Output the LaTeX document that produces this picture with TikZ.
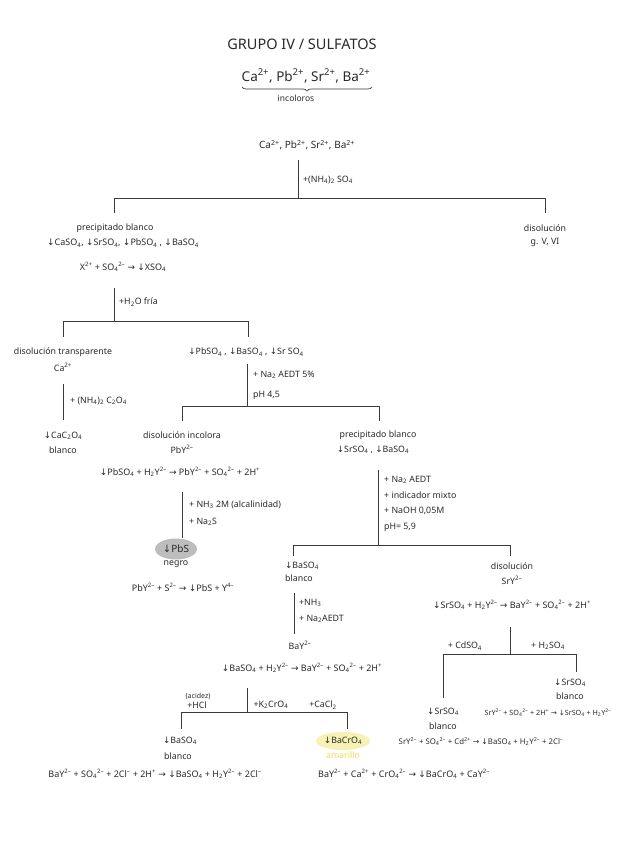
\documentclass[tikz,border=0pt]{standalone}
\usepackage{fontspec}
\setmainfont{Noto Sans}
\newfontfamily\symfont{DejaVu Sans}
\usetikzlibrary{decorations.pathreplacing,shapes.geometric}
\newcommand{\cb}[1]{\textsubscript{#1}}
\newcommand{\cp}[1]{\textsuperscript{#1}}
\newcommand{\pdn}{{\symfont ↓}}
\newcommand{\pto}{{\symfont →}}
\definecolor{inkc}{HTML}{2A2A2A}
\definecolor{linec}{HTML}{3A3A3A}
\definecolor{grayfill}{HTML}{BDBDBD}
\definecolor{yelfill}{HTML}{F6F1B4}
\definecolor{yeltext}{HTML}{EEDC5A}
\begin{document}
\begin{tikzpicture}[x=1pt,y=-1pt,
  txt/.style={font=\fontsize{8.8}{10}\selectfont, text=inkc, inner sep=1pt},
  small/.style={font=\fontsize{7}{8}\selectfont, text=inkc, inner sep=1pt},
  lbl/.style={txt, anchor=west},
  eqn/.style={font=\fontsize{9}{10}\selectfont, text=inkc, inner sep=1pt},
  ln/.style={line width=0.9pt, draw=linec},
  titlestyle/.style={font=\fontsize{14.5}{16}\selectfont, text=inkc},
  ionsstyle/.style={font=\fontsize{13.5}{15}\selectfont, text=inkc}]
\useasboundingbox[fill=white] (0,0) rectangle (636,848);

% title
\node[titlestyle] (title) at (302,44) {GRUPO IV / SULFATOS};
\node[ionsstyle] (ions) at (306,76) {Ca\cp{2+}, Pb\cp{2+}, Sr\cp{2+}, Ba\cp{2+}};
\coordinate (brl) at (242,87);
\coordinate (brr) at (372,87);
\draw[line width=0.7pt, draw=linec, decorate, decoration={brace, mirror, amplitude=4pt}] (brl) -- (brr);
\node[font=\fontsize{8.5}{9}\selectfont, text=inkc, inner sep=1pt] (incol) at (296,98) {incoloros};

% level 0
\node[font=\fontsize{10}{11}\selectfont, text=inkc, inner sep=1pt] (start) at (307,145) {Ca\cp{2+}, Pb\cp{2+}, Sr\cp{2+}, Ba\cp{2+}};
\coordinate (s1) at (298,160);
\coordinate (s2) at (298,198);
\coordinate (L1) at (114,198);
\coordinate (R1) at (545,198);
\coordinate (L1b) at (114,213);
\coordinate (R1b) at (545,213);
\draw[ln] (s1) -- (s2);
\draw[ln] (L1b) -- (L1) -- (R1) -- (R1b);
\node[lbl] (r1) at (302,180) {+(NH\cb{4})\cb{2} SO\cb{4}};

% right: disolucion
\node[txt] (dis1) at (545,228) {disolución};
\node[txt] (gvvi) at (545,242) {g. V, VI};

% left: precipitado
\node[txt] (pb) at (115,228) {precipitado blanco};
\node[eqn] (pl) at (123,243) {\pdn CaSO\cb{4}, \pdn SrSO\cb{4}, \pdn PbSO\cb{4} , \pdn BaSO\cb{4}};
\node[eqn] (eqx) at (123,267) {X\cp{2+} + SO\cb{4}\cp{2--} \pto\ \pdn XSO\cb{4}};

\coordinate (a1) at (114,288);
\coordinate (a2) at (114,321);
\coordinate (L2) at (63,321);
\coordinate (R2) at (248,321);
\coordinate (L2b) at (63,337);
\coordinate (R2b) at (248,337);
\draw[ln] (a1) -- (a2);
\draw[ln] (L2b) -- (L2) -- (R2) -- (R2b);
\node[lbl] (r2) at (118,302) {+H\cb{2}O fría};

% Ca branch
\node[txt] (dt) at (63,352) {disolución transparente};
\node[txt] (ca) at (63,367) {Ca\cp{2+}};
\coordinate (c1) at (63,384);
\coordinate (c2) at (63,420);
\draw[ln] (c1) -- (c2);
\node[lbl] (r3) at (69,401) {+ (NH\cb{4})\cb{2} C\cb{2}O\cb{4}};
\node[txt] (cac) at (63,436) {\pdn CaC\cb{2}O\cb{4}};
\node[txt] (bl1) at (63,450) {blanco};

% Pb/Ba/Sr branch
\node[txt] (pbs) at (246,352) {\pdn PbSO\cb{4} , \pdn BaSO\cb{4} , \pdn Sr SO\cb{4}};
\coordinate (b1) at (247,364);
\coordinate (b2) at (247,406);
\coordinate (L3) at (182,406);
\coordinate (R3) at (379,406);
\coordinate (L3b) at (182,421);
\coordinate (R3b) at (379,421);
\draw[ln] (b1) -- (b2);
\draw[ln] (L3b) -- (L3) -- (R3) -- (R3b);
\node[lbl] (r4) at (252,375) {+ Na\cb{2} AEDT 5\%};
\node[lbl] (r5) at (252,395) {pH 4,5};

% Pb branch
\node[txt] (di) at (182,435) {disolución incolora};
\node[txt] (pby) at (182,449) {PbY\cp{2--}};
\node[eqn] (eqpb) at (180,472) {\pdn PbSO\cb{4} + H\cb{2}Y\cp{2--} \pto\ PbY\cp{2--} + SO\cb{4}\cp{2--} + 2H\cp{+}};
\coordinate (d1) at (182,492);
\coordinate (d2) at (182,538);
\draw[ln] (d1) -- (d2);
\node[lbl] (r6) at (188,505) {+ NH\cb{3} 2M (alcalinidad)};
\node[lbl] (r7) at (188,522) {+ Na\cb{2}S};
\node[txt, ellipse, fill=grayfill, minimum width=42pt, minimum height=21pt, inner sep=0pt, font=\fontsize{10}{11}\selectfont] (pbsn) at (176,549) {\pdn PbS};
\node[txt] (negro) at (176,564) {negro};
\node[eqn] (eqs) at (183,587) {PbY\cp{2--} + S\cp{2--} \pto\ \pdn PbS + Y\cp{4--}};

% Sr/Ba branch
\node[txt] (pb2) at (378,435) {precipitado blanco};
\node[txt] (srba) at (373,450) {\pdn SrSO\cb{4} , \pdn BaSO\cb{4}};
\coordinate (e1) at (378,470);
\coordinate (e2) at (378,545);
\coordinate (L4) at (293,545);
\coordinate (R4) at (510,545);
\coordinate (L4b) at (293,556);
\coordinate (R4b) at (510,556);
\draw[ln] (e1) -- (e2);
\draw[ln] (L4b) -- (L4) -- (R4) -- (R4b);
\node[lbl] (r8) at (383,480) {+ Na\cb{2} AEDT};
\node[lbl] (r9) at (383,495) {+ indicador mixto};
\node[lbl] (r10) at (383,511) {+ NaOH 0,05M};
\node[lbl] (r11) at (383,527) {pH= 5,9};

% BaSO4 branch
\node[txt] (baso4a) at (302,566) {\pdn BaSO\cb{4}};
\node[txt] (bl3) at (299,578) {blanco};
\coordinate (f1) at (294,593);
\coordinate (f2) at (294,634);
\draw[ln] (f1) -- (f2);
\node[lbl] (r12) at (298,603) {+NH\cb{3}};
\node[lbl] (r13) at (298,619) {+ Na\cb{2}AEDT};
\node[txt] (bay) at (300,645) {BaY\cp{2--}};
\node[eqn] (eqba) at (302,668) {\pdn BaSO\cb{4} + H\cb{2}Y\cp{2--} \pto\ BaY\cp{2--} + SO\cb{4}\cp{2--} + 2H\cp{+}};
\coordinate (g1) at (247,688);
\coordinate (g2) at (247,712);
\coordinate (L5) at (181,712);
\coordinate (R5) at (347,712);
\coordinate (L5b) at (181,729);
\coordinate (R5b) at (347,729);
\draw[ln] (g1) -- (g2);
\draw[ln] (L5b) -- (L5) -- (R5) -- (R5b);
\node[small] (acid) at (198,696) {(acidez)};
\node[txt] (r14) at (197,705) {+HCl};
\node[txt] (r15) at (271,705) {+K\cb{2}CrO\cb{4}};
\node[txt] (r16) at (323,705) {+CaCl\cb{2}};

\node[txt] (baso4b) at (180,741) {\pdn BaSO\cb{4}};
\node[txt] (bl4) at (178,756) {blanco};
\node[eqn] (eqcl) at (155,774) {BaY\cp{2--} + SO\cb{4}\cp{2--} + 2Cl\cp{--} + 2H\cp{+} \pto\ \pdn BaSO\cb{4} + H\cb{2}Y\cp{2--} + 2Cl\cp{--}};
\node[txt, ellipse, fill=yelfill, minimum width=46pt, minimum height=18pt, inner sep=0pt] (bacro) at (343,741) {\pdn BaCrO\cb{4}};
\node[txt, text=yeltext] (amar) at (343,755) {amarillo};
\node[eqn] (eqcr) at (404,774) {BaY\cp{2--} + Ca\cp{2+} + CrO\cb{4}\cp{2--} \pto\ \pdn BaCrO\cb{4} + CaY\cp{2--}};

% SrY branch
\node[txt] (dis2) at (512,566) {disolución};
\node[txt] (sry) at (512,580) {SrY\cp{2--}};
\node[eqn] (eqsr) at (512,605) {\pdn SrSO\cb{4} + H\cb{2}Y\cp{2--} \pto\ BaY\cp{2--} + SO\cb{4}\cp{2--} + 2H\cp{+}};
\coordinate (h1) at (510,627);
\coordinate (h2) at (510,654);
\coordinate (L6) at (443,654);
\coordinate (R6) at (576,654);
\coordinate (L6b) at (443,698);
\coordinate (R6b) at (576,672);
\draw[ln] (h1) -- (h2);
\draw[ln] (L6b) -- (L6) -- (R6) -- (R6b);
\node[txt] (r17) at (465,646) {+ CdSO\cb{4}};
\node[txt] (r18) at (548,646) {+ H\cb{2}SO\cb{4}};

\node[txt] (srso4r) at (570,683) {\pdn SrSO\cb{4}};
\node[txt] (bl5) at (570,696) {blanco};
\node[eqn, font=\fontsize{7.2}{8}\selectfont] (eqsr2) at (548,713) {SrY\cp{2--} + SO\cb{4}\cp{2--} + 2H\cp{+} \pto\ \pdn SrSO\cb{4} + H\cb{2}Y\cp{2--}};
\node[txt] (srso4l) at (443,712) {\pdn SrSO\cb{4}};
\node[txt] (bl6) at (443,726) {blanco};
\node[eqn, font=\fontsize{7.8}{9}\selectfont] (eqsr3) at (481,742) {SrY\cp{2--} + SO\cb{4}\cp{2--} + Cd\cp{2+} \pto\ \pdn BaSO\cb{4} + H\cb{2}Y\cp{2--} + 2Cl\cp{--}};
\end{tikzpicture}
\end{document}
